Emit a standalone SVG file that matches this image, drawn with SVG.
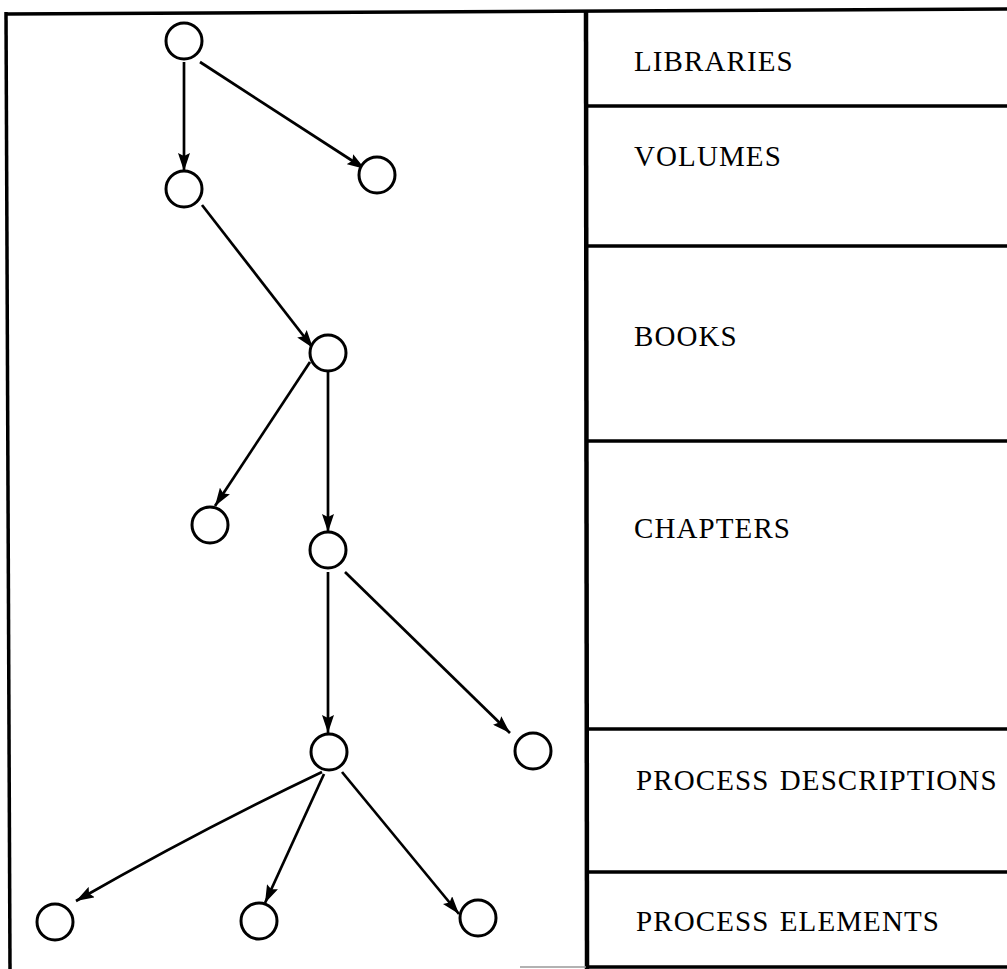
<svg xmlns="http://www.w3.org/2000/svg" width="1007" height="969" viewBox="0 0 1007 969">
<style>
.frame{stroke:#000;stroke-width:3.5;fill:none;stroke-linecap:butt}
.node circle{fill:#fff;stroke:#000;stroke-width:3}
.edge{stroke:#000;stroke-width:2.7;fill:none;marker-end:url(#ah)}
.lbl{font-family:"Liberation Serif","Times New Roman",serif;font-size:29px;letter-spacing:1.1px;word-spacing:2px;fill:#000}
</style>
<defs>
<marker id="ah" markerUnits="userSpaceOnUse" markerWidth="19" markerHeight="12" refX="18" refY="6" orient="auto">
<path d="M0,0 L18,6 L0,12 L3,6 z" fill="#000"/>
</marker>
</defs>
<rect width="1007" height="969" fill="#fff"/>
<g id="frame">
<line class="frame" x1="6" y1="14" x2="1007" y2="9"/>
<line class="frame" x1="6" y1="12" x2="10" y2="969"/>
<line class="frame" x1="586" y1="10" x2="587" y2="969" style="stroke-width:4.5"/>
<line class="frame" x1="586" y1="106" x2="1007" y2="106"/>
<line class="frame" x1="586" y1="246" x2="1007" y2="246"/>
<line class="frame" x1="586" y1="441" x2="1007" y2="441"/>
<line class="frame" x1="586" y1="729" x2="1007" y2="729"/>
<line class="frame" x1="586" y1="872" x2="1007" y2="872"/>
<line class="frame" x1="586" y1="967" x2="1007" y2="967"/>
<line x1="520" y1="967" x2="586" y2="967" stroke="#999" stroke-width="1.5"/>
</g>
<g id="labels">
<text id="lbl-libraries" class="lbl" x="634" y="71">LIBRARIES</text>
<text id="lbl-volumes" class="lbl" x="634" y="166">VOLUMES</text>
<text id="lbl-books" class="lbl" x="634" y="346">BOOKS</text>
<text id="lbl-chapters" class="lbl" x="634" y="538">CHAPTERS</text>
<text id="lbl-pd" class="lbl" x="636" y="790">PROCESS DESCRIPTIONS</text>
<text id="lbl-pe" class="lbl" x="636" y="931">PROCESS ELEMENTS</text>
</g>
<g id="connectors">
<line class="edge" x1="184" y1="62" x2="184" y2="171"/>
<line class="edge" x1="200" y1="62" x2="365" y2="169"/>
<line class="edge" x1="202" y1="205" x2="313" y2="348"/>
<line class="edge" x1="310" y1="362" x2="215" y2="506"/>
<line class="edge" x1="328" y1="372" x2="328" y2="532"/>
<line class="edge" x1="328" y1="572" x2="328" y2="733"/>
<line class="edge" x1="345" y1="572" x2="510" y2="733"/>
<path class="edge" d="M322,772 Q200,830 76,901"/>
<line class="edge" x1="324" y1="774" x2="265" y2="903"/>
<line class="edge" x1="342" y1="772" x2="459" y2="914"/>
</g>
<g id="n1" class="node"><circle cx="184" cy="41" r="18"/></g>
<g id="n2" class="node"><circle cx="377" cy="175" r="18"/></g>
<g id="n3" class="node"><circle cx="184" cy="189" r="18"/></g>
<g id="n4" class="node"><circle cx="328" cy="353" r="18"/></g>
<g id="n5" class="node"><circle cx="210" cy="525" r="18"/></g>
<g id="n6" class="node"><circle cx="328" cy="550" r="18"/></g>
<g id="n7" class="node"><circle cx="329" cy="752" r="18"/></g>
<g id="n8" class="node"><circle cx="533" cy="751" r="18"/></g>
<g id="n9" class="node"><circle cx="55" cy="922" r="18"/></g>
<g id="n10" class="node"><circle cx="259" cy="921" r="18"/></g>
<g id="n11" class="node"><circle cx="478" cy="918" r="18"/></g>
</svg>
